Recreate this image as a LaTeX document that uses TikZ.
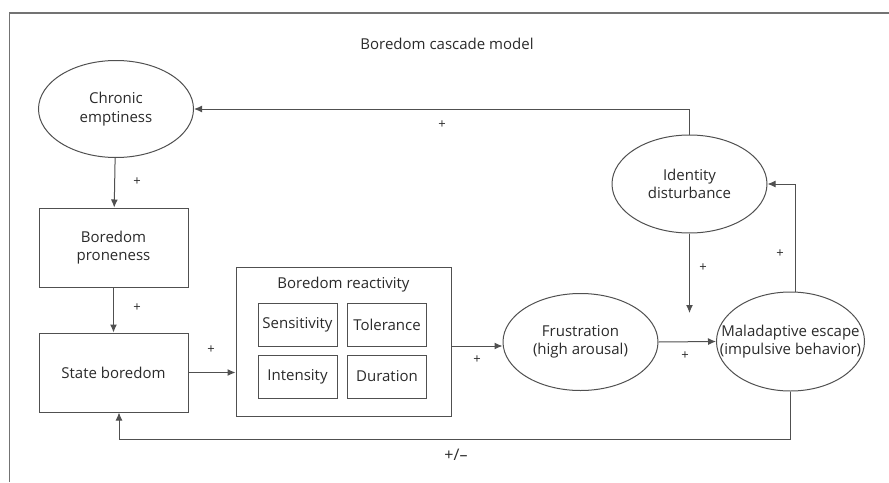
\documentclass[tikz,border=0pt]{standalone}
\usepackage{fontspec}
\setmainfont{Open Sans}
\usetikzlibrary{shapes.geometric,arrows.meta}
\definecolor{linegray}{HTML}{505050}
\definecolor{textgray}{HTML}{2A2A2A}

\begin{document}
\begin{tikzpicture}[x=1pt,y=-1pt,
  font=\fontsize{15}{18.5}\selectfont,
  oval/.style={ellipse,draw=linegray,line width=1pt,text=textgray,align=center,inner sep=0pt,
    minimum width=155pt,minimum height=97pt},
  block/.style={rectangle,draw=linegray,line width=1pt,text=textgray,align=center,inner sep=0pt},
  facet/.style={block,minimum width=79pt,minimum height=43pt},
  sign/.style={text=textgray,font=\fontsize{13}{15}\selectfont},
  link/.style={draw=linegray,line width=1pt,-{Latex[length=8pt,width=7pt]}}]
\useasboundingbox (0,0) rectangle (889,482);
% Frame
\draw[linegray!80,line width=1.2pt] (9.5,482) -- (9.5,13) -- (889,13);
% Title
\node[text=textgray] (title) at (447,44) {Boredom cascade model};
% Nodes
\node[oval] (chronic) at (116,109) {Chronic\\emptiness};
\node[block,minimum width=149pt,minimum height=79pt] (prone) at (113.5,247.5) {Boredom\\proneness};
\node[block,minimum width=149pt,minimum height=79pt] (state) at (113.5,372.5) {State boredom};
\node[block,minimum width=215pt,minimum height=149pt] (react) at (343.5,341.5) {};
\node[text=textgray] (reacttitle) at (343.5,285) {Boredom reactivity};
\node[facet] (sens) at (297.5,324.5) {Sensitivity};
\node[facet] (tol) at (387,324.5) {Tolerance};
\node[facet] (inten) at (297.5,376.5) {Intensity};
\node[facet] (dur) at (387,376.5) {Duration};
\node[oval] (frust) at (580.5,342) {Frustration\\(high arousal)};
\node[oval,minimum width=148pt,minimum height=99pt] (escape) at (790.5,341.5) {};
\node[text=textgray,align=center,inner sep=0pt] (escapetext) at (escape) {Maladaptive escape\\(impulsive behavior)};
\node[oval,minimum height=98pt] (ident) at (689.5,184) {Identity\\disturbance};
\coordinate (join) at (689.5,313);
% Lines
\draw[link] (chronic) -- (prone);
\draw[link] (prone) -- (state);
\draw[link] (state.east) -- (state.east -| react.west);
\draw[link] ([yshift=-4.5pt]react.east) -- ([yshift=-4.5pt]react.east -| frust.west);
\draw[link] (frust.east) -- (escape.west);
\draw[link] (ident.south) -- (join);
\draw[link] ([xshift=4.5pt]escape.north) |- (ident.east);
\draw[link] (ident.north) |- (chronic.east);
\draw[link] (escape.south) -- ++(0,48) -| ([xshift=5.5pt]state.south);
% Signs
\node[sign] (s1) at (137,182) {+};
\node[sign] (s2) at (137,308) {+};
\node[sign] (s3) at (211,350) {+};
\node[sign] (s4) at (477,360) {+};
\node[sign] (s5) at (685,356) {+};
\node[sign] (s6) at (703,268) {+};
\node[sign] (s7) at (780,254) {+};
\node[sign] (s8) at (442,125) {+};
\node[sign,font=\fontsize{16}{18}\selectfont] (s9) at (456,455) {+/–};
\end{tikzpicture}
\end{document}
